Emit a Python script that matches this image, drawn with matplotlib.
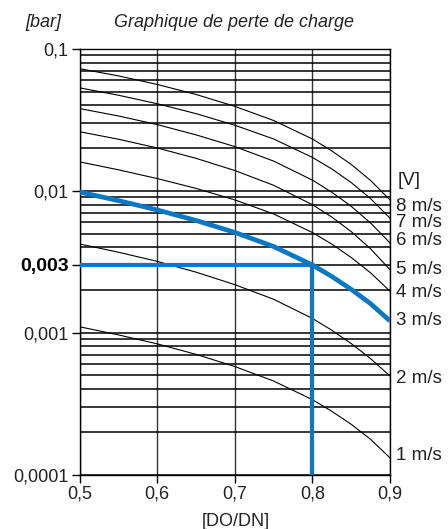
import numpy as np
import matplotlib
matplotlib.use("Agg")
import matplotlib.pyplot as plt
from matplotlib.ticker import FixedLocator, LogLocator, NullFormatter

plt.rcParams['font.family'] = ['Liberation Sans', 'DejaVu Sans']

# DO/DN positions where the curves were read
do_dn = [0.5, 0.55, 0.6, 0.65, 0.7, 0.75, 0.8, 0.825, 0.85, 0.875, 0.9]

# pressure loss [bar] per flow velocity
dp_1ms = [0.0011, 0.000964, 0.000834, 0.000703, 0.000577, 0.000456, 0.000337, 0.000279, 0.000226, 0.000177, 0.000131]
dp_2ms = [0.00422, 0.00369, 0.00318, 0.00267, 0.00218, 0.00172, 0.00126, 0.00104, 0.000838, 0.000656, 0.000495]
dp_3ms = [0.0098, 0.00853, 0.00733, 0.00618, 0.00509, 0.00405, 0.003, 0.00249, 0.00202, 0.0016, 0.00121]
dp_4ms = [0.016, 0.01406, 0.0122, 0.0104, 0.00863, 0.00687, 0.00508, 0.00421, 0.00339, 0.00264, 0.00196]
dp_5ms = [0.0261, 0.0231, 0.02005, 0.01694, 0.0139, 0.01094, 0.00798, 0.00653, 0.00516, 0.0039, 0.00278]
dp_6ms = [0.038, 0.0337, 0.0293, 0.0248, 0.0205, 0.0162, 0.0119, 0.00977, 0.00778, 0.00593, 0.00429]
dp_7ms = [0.0532, 0.0472, 0.0411, 0.035, 0.029, 0.0232, 0.0172, 0.01426, 0.01143, 0.00881, 0.00641]
dp_8ms = [0.0726, 0.0646, 0.0562, 0.0478, 0.0394, 0.0313, 0.0232, 0.0191, 0.01535, 0.01183, 0.00863]

black_curves = [dp_1ms, dp_2ms, dp_4ms, dp_5ms, dp_6ms, dp_7ms, dp_8ms]

# velocity labels on the right and their heights
v_labels = ['8 m/s', '7 m/s', '6 m/s', '5 m/s', '4 m/s', '3 m/s', '2 m/s', '1 m/s']
v_label_y = [0.00778, 0.006, 0.0045, 0.00277, 0.00191, 0.00121, 0.000476, 0.000136]

# reading example
read_x = 0.8
read_dp = 0.003

y_ticks = [0.0001, 0.001, 0.003, 0.01, 0.1]
y_ticklabels = ['0,0001', '0,001', '0,003', '0,01', '0,1']
x_ticks = [0.5, 0.6, 0.7, 0.8, 0.9]
x_ticklabels = ['0,5', '0,6', '0,7', '0,8', '0,9']

blue = '#0a78c3'
txt = '#222222'

fig = plt.figure(figsize=(4.48, 5.29), dpi=100)
ax = fig.add_axes([0.178, 0.103, 0.6925, 0.8044])
ax.set_yscale('log')
ax.set_xlim(0.5, 0.9)
ax.set_ylim(0.0001, 0.1)

ax.yaxis.set_major_locator(FixedLocator(y_ticks))
ax.set_yticklabels(y_ticklabels)
ax.yaxis.set_minor_locator(LogLocator(base=10, subs=np.arange(2, 10)))
ax.yaxis.set_minor_formatter(NullFormatter())
ax.set_xticks(x_ticks)
ax.set_xticklabels(x_ticklabels)

ax.grid(which='both', axis='y', color='black', lw=1.1, zorder=1)
ax.grid(which='major', axis='x', color='#333333', lw=1.0, zorder=1)
ax.set_axisbelow(True)

ax.tick_params(which='major', direction='out', length=6, width=1, color='black',
               labelsize=13, labelcolor=txt, pad=2)
ax.tick_params(which='minor', length=0)
for lab in ax.get_yticklabels():
    if lab.get_text() == '0,003':
        lab.set_fontweight('bold')
        lab.set_fontsize(14)
        lab.set_color('black')

for sp in ax.spines.values():
    sp.set_color('black')
    sp.set_linewidth(1.0)

for dp in black_curves:
    ax.plot(do_dn, dp, color='black', lw=0.8, zorder=3, solid_joinstyle='round')
ax.plot(do_dn, dp_3ms, color=blue, lw=3.4, zorder=5, solid_capstyle='butt',
        solid_joinstyle='round')

ax.plot([0.5, read_x], [read_dp, read_dp], color=blue, lw=3.0, zorder=5)
ax.plot([read_x, read_x], [0.0001, read_dp], color=blue, lw=3.0, zorder=5)

for lab, yv in zip(v_labels, v_label_y):
    ax.annotate(lab, xy=(0.9, yv), xytext=(4.5, 0), textcoords='offset points',
                ha='left', va='center', fontsize=13.5, color=txt, annotation_clip=False)
ax.annotate('[V]', xy=(0.9, 0.0118), xytext=(5.5, 0), textcoords='offset points',
            ha='left', va='center', fontsize=13.5, color=txt, annotation_clip=False)

fig.text(0.097, 0.958, '[bar]', ha='center', va='center', fontsize=13,
         style='italic', color=txt)
fig.text(0.522, 0.958, 'Graphique de perte de charge', ha='center', va='center',
         fontsize=13, style='italic', color=txt)
fig.text(0.527, 0.014, '[DO/DN]', ha='center', va='center', fontsize=13, color=txt)

fig.savefig('out.png', dpi=100)
